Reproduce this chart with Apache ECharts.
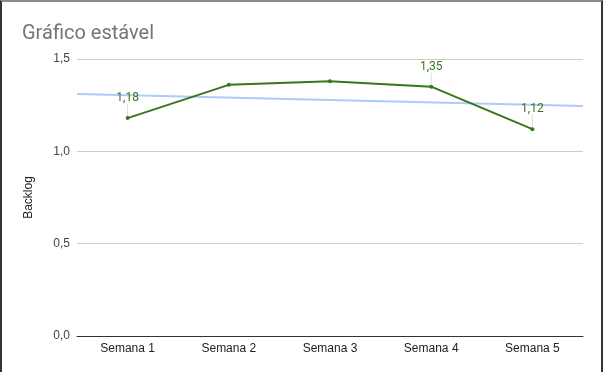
<!DOCTYPE html>
<html><head><meta charset="utf-8">
<script src="https://cdn.jsdelivr.net/npm/echarts@6/dist/echarts.min.js"></script>
<style>
html,body{margin:0;padding:0;background:#fff;}
#c{width:603px;height:372px;box-sizing:border-box;border-top:2px solid #8a8a8a;border-left:2px solid #333;border-right:2px solid #333;}
</style></head><body>
<div id="c"></div>
<script>
const categories = ['Semana 1','Semana 2','Semana 3','Semana 4','Semana 5'];
const backlog = [1.18, 1.36, 1.38, 1.35, 1.12];
const labelShown = [true, false, false, true, true];
const trendEnds = [1.31, 1.245];
const yTicks = [0, 0.5, 1.0, 1.5];

const fmt = v => v.toFixed(2).replace('.', ',');
const chart = echarts.init(document.getElementById('c'));
chart.setOption({
  animation: false,
  title: {text: 'Gráfico estável', left: 15, top: 17,
    textStyle: {fontFamily: 'Roboto', fontSize: 20, fontWeight: 'normal', color: '#757575'}},
  grid: {left: 75, right: 18, top: 57, bottom: 36},
  xAxis: [{
    type: 'category', data: categories, boundaryGap: true,
    axisLine: {lineStyle: {color: '#333', width: 1}}, axisTick: {show: false},
    axisLabel: {color: '#222', fontFamily: 'Arial', fontSize: 12, margin: 7}
  }, {
    type: 'value', min: 0, max: 1, show: false
  }],
  yAxis: {
    type: 'value', min: yTicks[0], max: yTicks[yTicks.length-1], interval: 0.5,
    name: 'Backlog', nameLocation: 'middle', nameGap: 42, nameRotate: 90,
    nameTextStyle: {color: '#222', fontFamily: 'Arial', fontSize: 12},
    axisLine: {show: false}, axisTick: {show: false},
    axisLabel: {color: '#444', fontFamily: 'Arial', fontSize: 12, margin: 7,
      formatter: v => v.toFixed(1).replace('.', ',')},
    splitLine: {lineStyle: {color: '#ccc', width: 1}}
  },
  series: [{
    type: 'line', xAxisIndex: 1, data: [[0, trendEnds[0]], [1, trendEnds[1]]],
    symbol: 'none', lineStyle: {color: '#aecbfa', width: 2}, silent: true, z: 1
  }, {
    type: 'line', xAxisIndex: 0,
    data: backlog.map((v, i) => ({value: v, label: {show: labelShown[i]}})),
    symbol: 'circle', symbolSize: 4,
    itemStyle: {color: '#38761d'}, lineStyle: {color: '#38761d', width: 2}, z: 3,
    label: {position: 'top', distance: 4, color: '#38761d', fontFamily: 'Roboto', fontSize: 12,
      formatter: p => fmt(p.value)},
    labelLayout: {dy: -8},
    labelLine: {show: true, lineStyle: {color: '#ddd', width: 1}}
  }]
});
</script></body></html>
